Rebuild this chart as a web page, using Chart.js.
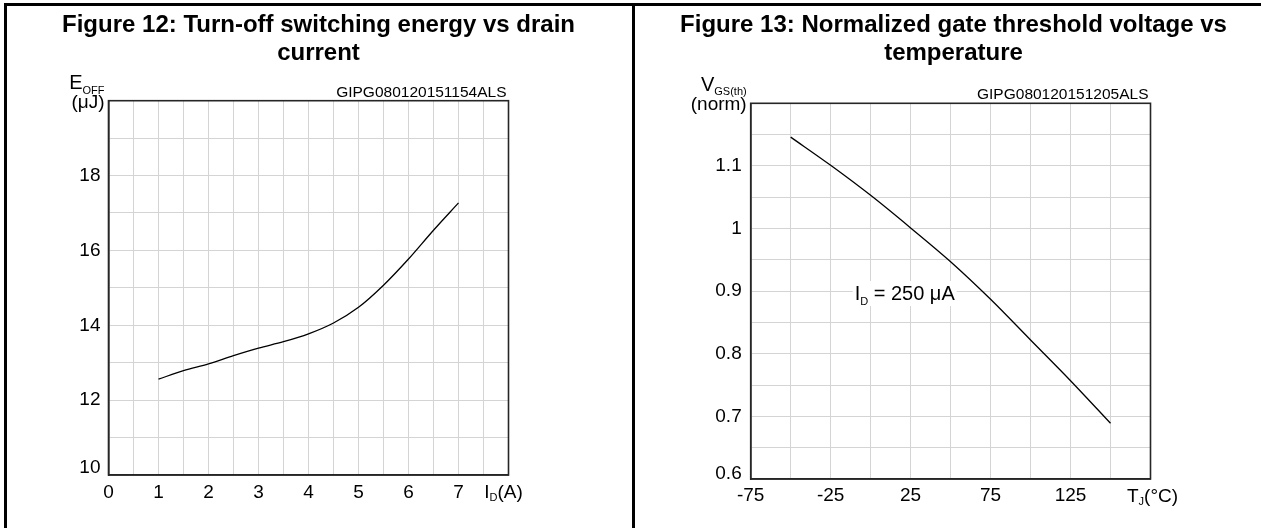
<!DOCTYPE html>
<html>
<head>
<meta charset="utf-8">
<title>Figures 12 and 13</title>
<script src="https://cdn.jsdelivr.net/npm/chart.js@4.4.1/dist/chart.umd.min.js"></script>
<style>
    html, body { margin: 0; padding: 0; background: #fff; }
    body { width: 1261px; height: 528px; position: relative; overflow: hidden; }
    .panel { position: absolute; top: 0; height: 528px; }
    #panel12 { left: 0; width: 632px; }
    #panel13 { left: 635px; width: 626px; }
    .rule { position: absolute; background: #000; }
</style>
</head>
<body>
<div class="panel" id="panel12"><canvas id="fig12"></canvas></div>
<div class="panel" id="panel13"><canvas id="fig13"></canvas></div>
<div class="rule" style="left:4px;top:3px;width:1257px;height:3px"></div>
<div class="rule" style="left:4px;top:3px;width:3px;height:525px"></div>
<div class="rule" style="left:632px;top:3px;width:3px;height:525px"></div>
<script>
// Figure 12: turn-off switching energy vs drain current
const drainCurrent = [1, 1.5, 2, 2.5, 3, 3.5, 4, 4.5, 5, 5.5, 6, 6.5, 7];
const eoffEnergy = [12.56, 12.79, 12.97, 13.19, 13.39, 13.56, 13.77, 14.06, 14.48, 15.07, 15.77, 16.54, 17.27];
const eoffTicks = ["10", "12", "14", "16", "18"];
const currentTicks = ["0", "1", "2", "3", "4", "5", "6", "7"];

// Figure 13: normalized gate threshold voltage vs temperature
const junctionTemp = [-50, -25, 0, 25, 50, 75, 100, 125, 150];
const vgsThNorm = [1.146, 1.101, 1.053, 1.001, 0.947, 0.887, 0.822, 0.757, 0.689];
const vgsTicks = ["0.6", "0.7", "0.8", "0.9", "1", "1.1"];
const tempTicks = ["-75", "-25", "25", "75", "125"];

const FONT = '"Liberation Sans", Arial, Helvetica, sans-serif';
const TICK_SIZE = 19;

// Width of a row of text pieces
const measureRuns = (ctx, runs) => {
    let total = 0;
    runs.forEach(r => { ctx.font = r[1] + "px " + FONT; total += ctx.measureText(r[0]).width; });
    return total;
};

// Draw a row of text pieces (used for subscripts)
const drawRuns = (ctx, x, y, runs, align) => {
    const total = measureRuns(ctx, runs);
    let cx = align === "right" ? x - total : (align === "center" ? x - total / 2 : x);
    ctx.textAlign = "left";
    runs.forEach(r => {
        ctx.font = r[1] + "px " + FONT;
        ctx.fillText(r[0], cx, y + (r[2] || 0));
        cx += ctx.measureText(r[0]).width;
    });
    return total;
};

// Tick label helper: only show values that appear in the label list
const pickLabel = (list, skip) => (value) => {
    const s = String(Math.round(value * 100) / 100);
    return list.includes(s) && s !== skip ? s : "";
};

// Titles, axis names, drawing code and the plot frame
const sheetText = {
    id: "sheetText",
    beforeDatasetsDraw(chart, args, opts) {
        if (!opts.note) return;
        const ctx = chart.ctx;
        const x = chart.scales.x.getPixelForValue(opts.note.x);
        const y = chart.scales.y.getPixelForValue(opts.note.y);
        ctx.save();
        const w = measureRuns(ctx, opts.note.runs);
        ctx.fillStyle = "#fff";
        ctx.fillRect(x - 2, y - 12, w + 4, 25);
        ctx.fillStyle = "#000";
        ctx.textBaseline = "alphabetic";
        drawRuns(ctx, x, y + 7, opts.note.runs, "left");
        ctx.restore();
    },
    afterDraw(chart, args, opts) {
        const ctx = chart.ctx;
        const area = chart.chartArea;
        const xs = chart.scales.x, ys = chart.scales.y;
        ctx.save();
        ctx.strokeStyle = "#262626";
        ctx.lineWidth = 1.6;
        ctx.strokeRect(area.left, area.top, area.right - area.left, area.bottom - area.top);

        ctx.fillStyle = "#000";
        ctx.textBaseline = "alphabetic";
        ctx.textAlign = "center";
        ctx.font = "bold 24px " + FONT;
        opts.title.forEach((t, i) => ctx.fillText(t, opts.titleX, 32 + i * 27.6));

        ctx.textAlign = "right";
        ctx.font = "15.5px " + FONT;
        ctx.fillText(opts.code, area.right - 2, area.top - 4);

        drawRuns(ctx, area.left - 4, area.top - 12, opts.yName, "right");
        drawRuns(ctx, area.left - 4, area.top + 7, opts.yUnit, "right");

        // lowest y label sits a little above its grid line
        ctx.textBaseline = "middle";
        ctx.textAlign = "right";
        ctx.font = TICK_SIZE + "px " + FONT;
        ctx.fillText(opts.yLow, area.left - ys.options.ticks.padding, ys.getPixelForValue(ys.min) - opts.yLowLift);

        ctx.textBaseline = "alphabetic";
        drawRuns(ctx, xs.getPixelForValue(xs.max) + opts.xNameShift, area.bottom + 23, opts.xName, "center");
        ctx.restore();
    }
};

const makeScales = (c) => ({
    x: {
        type: "linear",
        min: c.xMin, max: c.xMax,
        afterFit: (scale) => { scale.height = c.xHeight; },
        grid: { color: "#d4d4d4", lineWidth: 1, drawTicks: false },
        border: { display: true, color: "#262626", width: 1.6 },
        ticks: {
            stepSize: c.xStep, autoSkip: false, maxRotation: 0, padding: c.xPad,
            color: "#000", font: { family: FONT, size: TICK_SIZE },
            callback: pickLabel(c.xLabels)
        }
    },
    y: {
        type: "linear",
        min: c.yMin, max: c.yMax,
        afterFit: (scale) => { scale.width = c.yWidth; },
        grid: { color: "#d4d4d4", lineWidth: 1, drawTicks: false },
        border: { display: true, color: "#262626", width: 1.6 },
        ticks: {
            stepSize: c.yStep, autoSkip: false, padding: c.yPad,
            color: "#000", font: { family: FONT, size: TICK_SIZE },
            callback: pickLabel(c.yLabels, c.yLabels[0])
        }
    }
});

const baseOptions = (c, textOpts) => ({
    responsive: true,
    maintainAspectRatio: false,
    animation: false,
    layout: { padding: { top: c.top, right: c.right, bottom: 0, left: 0 } },
    plugins: { legend: { display: false }, tooltip: { enabled: false }, title: { display: false }, sheetText: textOpts },
    scales: makeScales(c)
});

const lineSet = (xs, ys) => ({
    data: xs.map((x, i) => ({ x: x, y: ys[i] })),
    borderColor: "#000",
    borderWidth: 1.3,
    pointRadius: 0,
    fill: false,
    cubicInterpolationMode: "monotone"
});

new Chart(document.getElementById("fig12"), {
    type: "line",
    data: { datasets: [lineSet(drainCurrent, eoffEnergy)] },
    options: baseOptions(
        { xMin: 0, xMax: 8, xStep: 0.5, xLabels: currentTicks, xHeight: 53, xPad: 6,
          yMin: 10, yMax: 20, yStep: 1, yLabels: eoffTicks, yWidth: 108.5, yPad: 8,
          top: 100.7, right: 123.5 },
        { title: ["Figure 12: Turn-off switching energy vs drain", "current"], titleX: 318.5,
          code: "GIPG080120151154ALS",
          yName: [["E", 20], ["OFF", 11, 5]], yUnit: [["(μJ)", 19]],
          yLow: eoffTicks[0], yLowLift: 7.5,
          xName: [["I", 19], ["D", 11, 3], ["(A)", 19]], xNameShift: -5 }
    ),
    plugins: [sheetText]
});

new Chart(document.getElementById("fig13"), {
    type: "line",
    data: { datasets: [lineSet(junctionTemp, vgsThNorm)] },
    options: baseOptions(
        { xMin: -75, xMax: 175, xStep: 25, xLabels: tempTicks, xHeight: 49, xPad: 5,
          yMin: 0.6, yMax: 1.2, yStep: 0.05, yLabels: vgsTicks, yWidth: 115.7, yPad: 9,
          top: 103.3, right: 110.5 },
        { title: ["Figure 13: Normalized gate threshold voltage vs", "temperature"], titleX: 318.5,
          code: "GIPG080120151205ALS",
          yName: [["V", 20], ["GS(th)", 11, 4]], yUnit: [["(norm)", 19]],
          yLow: vgsTicks[0], yLowLift: 5,
          xName: [["T", 19], ["J", 11, 3], ["(°C)", 19]], xNameShift: 2,
          note: { x: -10, y: 0.897, runs: [["I", 20], ["D", 11, 5], [" = 250 μA", 20]] } }
    ),
    plugins: [sheetText]
});
</script>
</body>
</html>
